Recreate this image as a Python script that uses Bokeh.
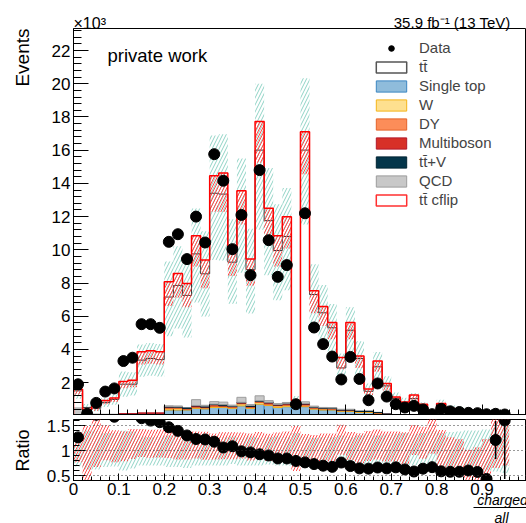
import math
import numpy as np
from bokeh.plotting import figure
from bokeh.layouts import column
from bokeh.models import (Range1d, SingleIntervalTicker, Label, Legend, LegendItem, GridBox,
                          Span, BoxAnnotation, NumeralTickFormatter, CustomJSTickFormatter)
from bokeh.embed import file_html
from bokeh.resources import INLINE

NAN = float("nan")
FONT = "Liberation Sans"

# ---------------- data (events in units of 10^3) ----------------
bin_edges = [round(0.02 * i, 2) for i in range(51)]

data = [1.9, 0.12, 0.78, 1.46, 1.65, 3.3, 3.5, 5.52, 5.52, 5.3,
        10.48, 10.94, 9.44, 12.0, 10.44, 15.76, 14.16, 10.04, 12.1, 8.47,
        14.8, 10.58, 8.37, 9.08, 0.7, 12.2, 5.32, 4.32, 3.57, 2.19,
        3.55, 2.22, 0.94, 1.95, 1.16, 0.7, 0.5, 0.6, 0.385, 0.1,
        0.42, 0.27, 0.23, 0.18, 0.16, 0.095, 0.121, 0.08, NAN, NAN]

ttbar = [1.03, 0.38, 0.35, 0.7, 0.89, 1.78, 1.78, 3.19, 3.29, 3.22,
         6.55, 7.26, 6.78, 8.78, 7.92, 12.55, 12.53, 8.61, 11.19, 8.13,
         14.8, 10.84, 9.22, 10.0, 0.03, 15.16, 6.72, 5.7, 4.81, 2.49,
         4.76, 3.18, 1.2, 2.75, 1.7, 1.0, 0.76, 0.99, 0.57, 0.13,
         0.70, 0.45, 0.38, 0.3, 0.28, 0.22, 0.1, 0.05, 0.0, 0.0]

single_top = [0.05, 0.02, 0.02, 0.03, 0.03, 0.08, 0.08, 0.1, 0.1, 0.1,
              0.35, 0.35, 0.35, 0.45, 0.42, 0.5, 0.5, 0.45, 0.6, 0.45,
              0.7, 0.62, 0.5, 0.55, 0.55, 0.55, 0.4, 0.35, 0.35, 0.27,
              0.27, 0.2, 0.2, 0.15, 0.06, 0.03, 0.02, 0.02, 0.02, 0.01,
              0.01, 0.01, 0.01, 0.0, 0.0, 0.0, 0.0, 0.0, 0.0, 0.0]

w_jets = [0.01, 0.0, 0.0, 0.01, 0.01, 0.03, 0.03, 0.04, 0.04, 0.04,
          0.08, 0.1, 0.05, 0.05, 0.05, 0.06, 0.05, 0.05, 0.12, 0.05,
          0.1, 0.05, 0.1, 0.08, 0.06, 0.05, 0.05, 0.06, 0.05, 0.04,
          0.04, 0.05, 0.05, 0.03, 0.02, 0.01, 0.01, 0.01, 0.0, 0.0,
          0.0, 0.0, 0.0, 0.0, 0.0, 0.0, 0.0, 0.0, 0.0, 0.0]

drell_yan = [0.01, 0.0, 0.0, 0.0, 0.0, 0.01, 0.01, 0.02, 0.02, 0.02,
             0.08, 0.05, 0.03, 0.08, 0.04, 0.1, 0.05, 0.05, 0.05, 0.05,
             0.06, 0.1, 0.04, 0.08, 0.1, 0.1, 0.04, 0.03, 0.03, 0.02,
             0.02, 0.01, 0.01, 0.01, 0.01, 0.0, 0.0, 0.0, 0.0, 0.0,
             0.0, 0.0, 0.0, 0.0, 0.0, 0.0, 0.0, 0.0, 0.0, 0.0]

multiboson = [0.005, 0.005, 0.005, 0.005, 0.005, 0.005, 0.005, 0.005, 0.005, 0.005,
              0.015, 0.015, 0.015, 0.015, 0.015, 0.015, 0.015, 0.015, 0.015, 0.015,
              0.015, 0.015, 0.015, 0.015, 0.015, 0.015, 0.015, 0.015, 0.015, 0.015,
              0.015, 0.005, 0.005, 0.005, 0.005, 0.005, 0.005, 0.005, 0.005, 0.005,
              0.005, 0.005, 0.005, 0.0, 0.0, 0.0, 0.0, 0.0, 0.0, 0.0]

ttbar_v = [0.0, 0.0, 0.0, 0.0, 0.0, 0.0, 0.0, 0.0, 0.0, 0.0,
           0.03, 0.03, 0.03, 0.03, 0.06, 0.03, 0.06, 0.03, 0.03, 0.06,
           0.03, 0.03, 0.03, 0.03, 0.03, 0.03, 0.03, 0.03, 0.03, 0.03,
           0.03, 0.01, 0.01, 0.01, 0.01, 0.01, 0.01, 0.01, 0.01, 0.005,
           0.005, 0.005, 0.005, 0.0, 0.0, 0.0, 0.0, 0.0, 0.0, 0.0]

qcd = [0.4, 0.1, 0.08, 0.05, 0.05, 0.0, 0.0, 0.0, 0.0, 0.0,
       0.05, 0.05, 0.0, 0.35, 0.05, 0.15, 0.15, 0.05, 0.3, 0.05,
       0.3, 0.1, 0.05, 0.05, 0.1, 0.1, 0.05, 0.02, 0.02, 0.02,
       0.02, 0.0, 0.0, 0.0, 0.0, 0.0, 0.0, 0.0, 0.0, 0.0,
       0.0, 0.0, 0.0, 0.0, 0.0, 0.0, 0.0, 0.0, 0.0, 0.0]

ttbar_cflip = [1.6, 0.4, 0.6, 0.92, 1.07, 2.07, 2.15, 3.86, 3.92, 3.86,
               8.07, 8.57, 7.97, 10.84, 9.38, 14.46, 14.62, 10.14, 13.55, 9.44,
               17.73, 12.5, 10.84, 11.99, 0.92, 17.11, 7.53, 6.59, 5.62, 3.51,
               5.62, 3.61, 1.61, 3.31, 1.95, 1.14, 0.84, 1.25, 0.7, 0.2,
               0.74, 0.44, 0.36, 0.2, 0.2, 0.15, 0.12, 0.06, 0.0, 0.0]

mc_unc_up = [0.35, 0.4, 0.4, 0.35, 0.35, 0.4, 0.38, 0.28, 0.27, 0.28,
             0.3, 0.3, 0.32, 0.28, 0.3, 0.26, 0.27, 0.28, 0.26, 0.28,
             0.25, 0.27, 0.28, 0.27, 0.35, 0.27, 0.25, 0.27, 0.27, 0.3,
             0.27, 0.3, 0.32, 0.3, 0.32, 0.33, 0.35, 0.33, 0.35, 0.4,
             0.35, 0.37, 0.38, 0.4, 0.4, 0.42, 0.45, 0.5, 0.0, 0.0]

mc_unc_dn = [0.32, 0.38, 0.38, 0.33, 0.32, 0.4, 0.36, 0.3, 0.3, 0.3,
             0.33, 0.33, 0.35, 0.3, 0.3, 0.3, 0.3, 0.27, 0.3, 0.3,
             0.3, 0.28, 0.3, 0.3, 0.33, 0.28, 0.27, 0.27, 0.28, 0.3,
             0.28, 0.3, 0.3, 0.3, 0.3, 0.32, 0.33, 0.3, 0.33, 0.35,
             0.33, 0.33, 0.35, 0.35, 0.35, 0.4, 0.42, 0.45, 0.0, 0.0]

# relative uncertainty of the cflip prediction (main panel band below the red line)
cflip_unc = [0.2, 0.6, 0.5, 0.25, 0.22, 0.2, 0.2, 0.2, 0.2, 0.2,
             0.18, 0.17, 0.18, 0.17, 0.18, 0.15, 0.16, 0.17, 0.15, 0.17,
             0.14, 0.16, 0.17, 0.16, 0.3, 0.15, 0.18, 0.18, 0.18, 0.2,
             0.18, 0.2, 0.22, 0.2, 0.22, 0.22, 0.25, 0.22, 0.25, 0.3,
             0.28, 0.28, 0.3, 0.35, 0.35, 0.5, 0.5, 0.5, 0.0, 0.0]

# half-width of the red band in the ratio panel
cflip_ratio_hw = [0.3, 0.7, 0.65, 0.35, 0.32, 0.3, 0.3, 0.28, 0.28, 0.28,
                  0.28, 0.27, 0.28, 0.27, 0.28, 0.26, 0.27, 0.27, 0.26, 0.27,
                  0.26, 0.27, 0.27, 0.27, 0.45, 0.26, 0.28, 0.28, 0.28, 0.3,
                  0.28, 0.3, 0.3, 0.3, 0.3, 0.3, 0.32, 0.3, 0.32, 0.4,
                  0.38, 0.33, 0.33, 0.35, 0.35, 0.55, 0.55, 0.5, 0.0, 0.0]

ratio_err = [0.03, 0.05, 0.05, 0.04, 0.04, 0.03, 0.03, 0.02, 0.02, 0.02,
             0.01, 0.01, 0.01, 0.01, 0.01, 0.01, 0.01, 0.01, 0.01, 0.01,
             0.01, 0.01, 0.01, 0.01, 0.04, 0.01, 0.01, 0.01, 0.01, 0.02,
             0.01, 0.02, 0.02, 0.02, 0.02, 0.03, 0.03, 0.03, 0.04, 0.06,
             0.04, 0.05, 0.05, 0.06, 0.06, 0.06, 0.38, 1.17, 0.0, 0.0]

stack_defs = [
    ("Single top", single_top, "#8fbcdb", "#3c86c2"),
    ("W", w_jets, "#fee08f", "#f4b41a"),
    ("DY", drell_yan, "#fc8d59", "#e4632a"),
    ("Multiboson", multiboson, "#d73027", "#b2182b"),
    ("tt\u0304+V", ttbar_v, "#04364a", "#022533"),
    ("QCD", qcd, "#c8c8c8", "#9d9d9d"),
]

TEAL = "#8fd3c5"
RED_H = "#ff4a4a"
X_END = 0.998
lo = np.array(bin_edges[:-1])
hi = np.array(bin_edges[1:])
ctr = 0.5 * (lo + hi)

# ---------------- main panel ----------------
p = figure(width=526, height=416, x_range=Range1d(0, X_END), y_range=Range1d(0.08, 23.33),
           output_backend="svg", toolbar_location=None,
           min_border_left=73, min_border_right=0, min_border_top=28, min_border_bottom=2)
p.xgrid.visible = False
p.ygrid.visible = False
p.outline_line_color = "black"

cum = np.zeros(50)
stack_r = {}
for name, vals, fc, lc in stack_defs:
    v = np.array(vals)
    m = v > 0
    r = p.quad(left=lo[m], right=hi[m], bottom=cum[m], top=(cum + v)[m],
               fill_color=fc, line_color=lc, line_width=1)
    stack_r[name] = r
    cum = cum + v
mc_total = cum + np.array(ttbar)

m = mc_total > 0
up = np.array(mc_unc_up)
dn = np.array(mc_unc_dn)
p.quad(left=lo[m], right=hi[m], bottom=(mc_total * (1 - dn))[m], top=(mc_total * (1 + up))[m],
       fill_color=None, line_color=None, hatch_pattern="/", hatch_color=TEAL,
       hatch_scale=7, hatch_weight=1)

xs = [bin_edges[0]] + bin_edges
p.step(x=xs, y=[0.0] + list(mc_total) + [0.0], mode="after", line_color="#3a3a3a", line_width=1)

cf = np.array(ttbar_cflip)
cu = np.array(cflip_unc)
mc_ = cf > 0
p.quad(left=lo[mc_], right=hi[mc_], bottom=(cf * (1 - cu))[mc_], top=cf[mc_],
       fill_color=None, line_color=None, hatch_pattern="/", hatch_color=RED_H,
       hatch_scale=6, hatch_weight=1)
p.step(x=xs, y=[0.0] + ttbar_cflip + [0.0], mode="after", line_color="#ff0000", line_width=1.5)

r_data = p.scatter(x=ctr, y=data, marker="circle", size=11, color="black")

# legend-only glyphs (NaN geometry: nothing drawn in the plot area)
r_tt = p.quad(left=[NAN], right=[NAN], bottom=[NAN], top=[NAN],
              fill_color="white", line_color="#555555", line_width=1.5)
r_cf = p.quad(left=[NAN], right=[NAN], bottom=[NAN], top=[NAN],
              fill_color="white", line_color="#ff3030", line_width=1.5)

items = [LegendItem(label="Data", renderers=[r_data]),
         LegendItem(label="tt\u0304", renderers=[r_tt])]
for name, *_ in stack_defs:
    items.append(LegendItem(label=name, renderers=[stack_r[name]]))
items.append(LegendItem(label="tt\u0304 cflip", renderers=[r_cf]))

legend = Legend(items=items, location=(299, 206), orientation="vertical",
                glyph_width=38, glyph_height=14, label_standoff=9, spacing=2,
                padding=0, margin=0, border_line_alpha=0, background_fill_alpha=0,
                label_text_font=FONT, label_text_font_size="15px", label_height=14,
                label_text_baseline="middle")
p.add_layout(legend, "center")

p.xaxis.ticker = SingleIntervalTicker(interval=0.1, num_minor_ticks=5)
p.xaxis.formatter = CustomJSTickFormatter(code="return ''")
p.xaxis.major_label_standoff = 0
p.xaxis.major_tick_in = 10
p.xaxis.major_tick_out = 0
p.xaxis.minor_tick_in = 5
p.xaxis.minor_tick_out = 0
p.xaxis.axis_line_color = "black"

p.yaxis.ticker = SingleIntervalTicker(interval=2, num_minor_ticks=5)
p.yaxis.formatter = NumeralTickFormatter(format="0")
p.yaxis.major_label_text_font = FONT
p.yaxis.major_label_text_font_size = "17px"
p.yaxis.major_label_text_color = "black"
p.yaxis.major_label_standoff = 3
p.yaxis.major_tick_in = 15
p.yaxis.major_tick_out = 0
p.yaxis.minor_tick_in = 8
p.yaxis.minor_tick_out = 0
p.yaxis.axis_line_color = "black"

p.add_layout(Label(x=34, y=359, x_units="screen", y_units="screen", text="private work",
                   text_baseline="alphabetic",
                   text_font=FONT, text_font_size="18.5px", text_color="black"))

# ---------------- ratio panel ----------------
p2 = figure(width=526, height=107, x_range=p.x_range, y_range=Range1d(0.4, 1.62),
            output_backend="svg", toolbar_location=None,
            min_border_left=73, min_border_right=0, min_border_top=3, min_border_bottom=43)
p2.xgrid.visible = False
p2.ygrid.visible = False
p2.outline_line_color = "black"

p2.quad(left=lo[m], right=hi[m], bottom=(1 - dn)[m], top=(1 + up)[m],
        fill_color=None, line_color=None, hatch_pattern="/", hatch_color=TEAL,
        hatch_scale=7, hatch_weight=1)
safe_mc = np.where(mc_total > 0, mc_total, 1.0)
hw = np.array(cflip_ratio_hw)
mr = (mc_total > 0) & (cf > 0)
p2.quad(left=lo[mr], right=hi[mr], bottom=(cf / safe_mc - hw)[mr],
        top=(cf / safe_mc + hw)[mr],
        fill_color=None, line_color=None, hatch_pattern="/", hatch_color=RED_H,
        hatch_scale=6, hatch_weight=1)

for lvl in (0.5, 1.0, 1.5):
    p2.add_layout(Span(location=lvl, dimension="width", line_color="#333333",
                       line_dash="1 3", line_width=1))

d = np.array(data)
ratio = np.where(mc_total > 0, d / safe_mc, np.nan)
rerr = np.array(ratio_err)
p2.segment(x0=ctr, y0=ratio - rerr, x1=ctr, y1=ratio + rerr, line_color="black", line_width=1.5)
p2.scatter(x=ctr, y=ratio, marker="circle", size=11, color="black")

p2.xaxis.ticker = SingleIntervalTicker(interval=0.1, num_minor_ticks=5)
p2.xaxis.formatter = NumeralTickFormatter(format="0.[0]")
p2.xaxis.major_label_text_font = FONT
p2.xaxis.major_label_text_font_size = "17px"
p2.xaxis.major_label_text_color = "black"
p2.xaxis.major_label_standoff = 2
p2.xaxis.major_tick_in = 7
p2.xaxis.major_tick_out = 0
p2.xaxis.minor_tick_in = 4
p2.xaxis.minor_tick_out = 0
p2.xaxis.axis_line_color = "black"

p2.yaxis.ticker = SingleIntervalTicker(interval=0.5, num_minor_ticks=5)
p2.yaxis.formatter = NumeralTickFormatter(format="0.[0]")
p2.yaxis.major_label_text_font = FONT
p2.yaxis.major_label_text_font_size = "17px"
p2.yaxis.major_label_text_color = "black"
p2.yaxis.major_label_standoff = 3
p2.yaxis.major_tick_in = 12
p2.yaxis.major_tick_out = 0
p2.yaxis.minor_tick_in = 6
p2.yaxis.minor_tick_out = 0
p2.yaxis.axis_line_color = "black"

stack_col = column(p, p2, spacing=0)

# ---------------- transparent overlay for texts outside the plot frames ----------------
ov = figure(width=526, height=523, x_range=Range1d(0, 1), y_range=Range1d(0, 1),
            output_backend="svg", toolbar_location=None, min_border=0,
            title_location=None,
            x_axis_location=None, y_axis_location=None, outline_line_color=None,
            background_fill_alpha=0, border_fill_alpha=0)
ov.grid.visible = False


def txt(x, y, s, size, **kw):
    ov.add_layout(Label(x=x, y=y, x_units="screen", y_units="screen", text=s,
                        text_baseline=kw.pop("baseline", "alphabetic"), text_font=FONT,
                        text_font_size=size, text_color="black", **kw))


txt(73, 500, "\u00d710\u00b3", "16px")
txt(510, 501, "35.9 fb\u207b\u00b9 (13 TeV)", "15px", text_align="right")
txt(22, 495, "Events", "19px", angle=math.pi / 2, text_align="right")
txt(22, 73, "Ratio", "18px", angle=math.pi / 2, text_align="center")
txt(502, 24, "charged", "14px", text_align="center", text_font_style="italic")
txt(501, 6, "all", "14px", text_align="center", text_font_style="italic")
ov.add_layout(BoxAnnotation(left=473, right=526, bottom=15.5, top=16.5,
                            left_units="screen", right_units="screen",
                            bottom_units="screen", top_units="screen",
                            fill_color="black", fill_alpha=1, line_color=None))

layout = GridBox(children=[(stack_col, 0, 0), (ov, 0, 0)])
open("out.html", "w").write(file_html(layout, INLINE))
